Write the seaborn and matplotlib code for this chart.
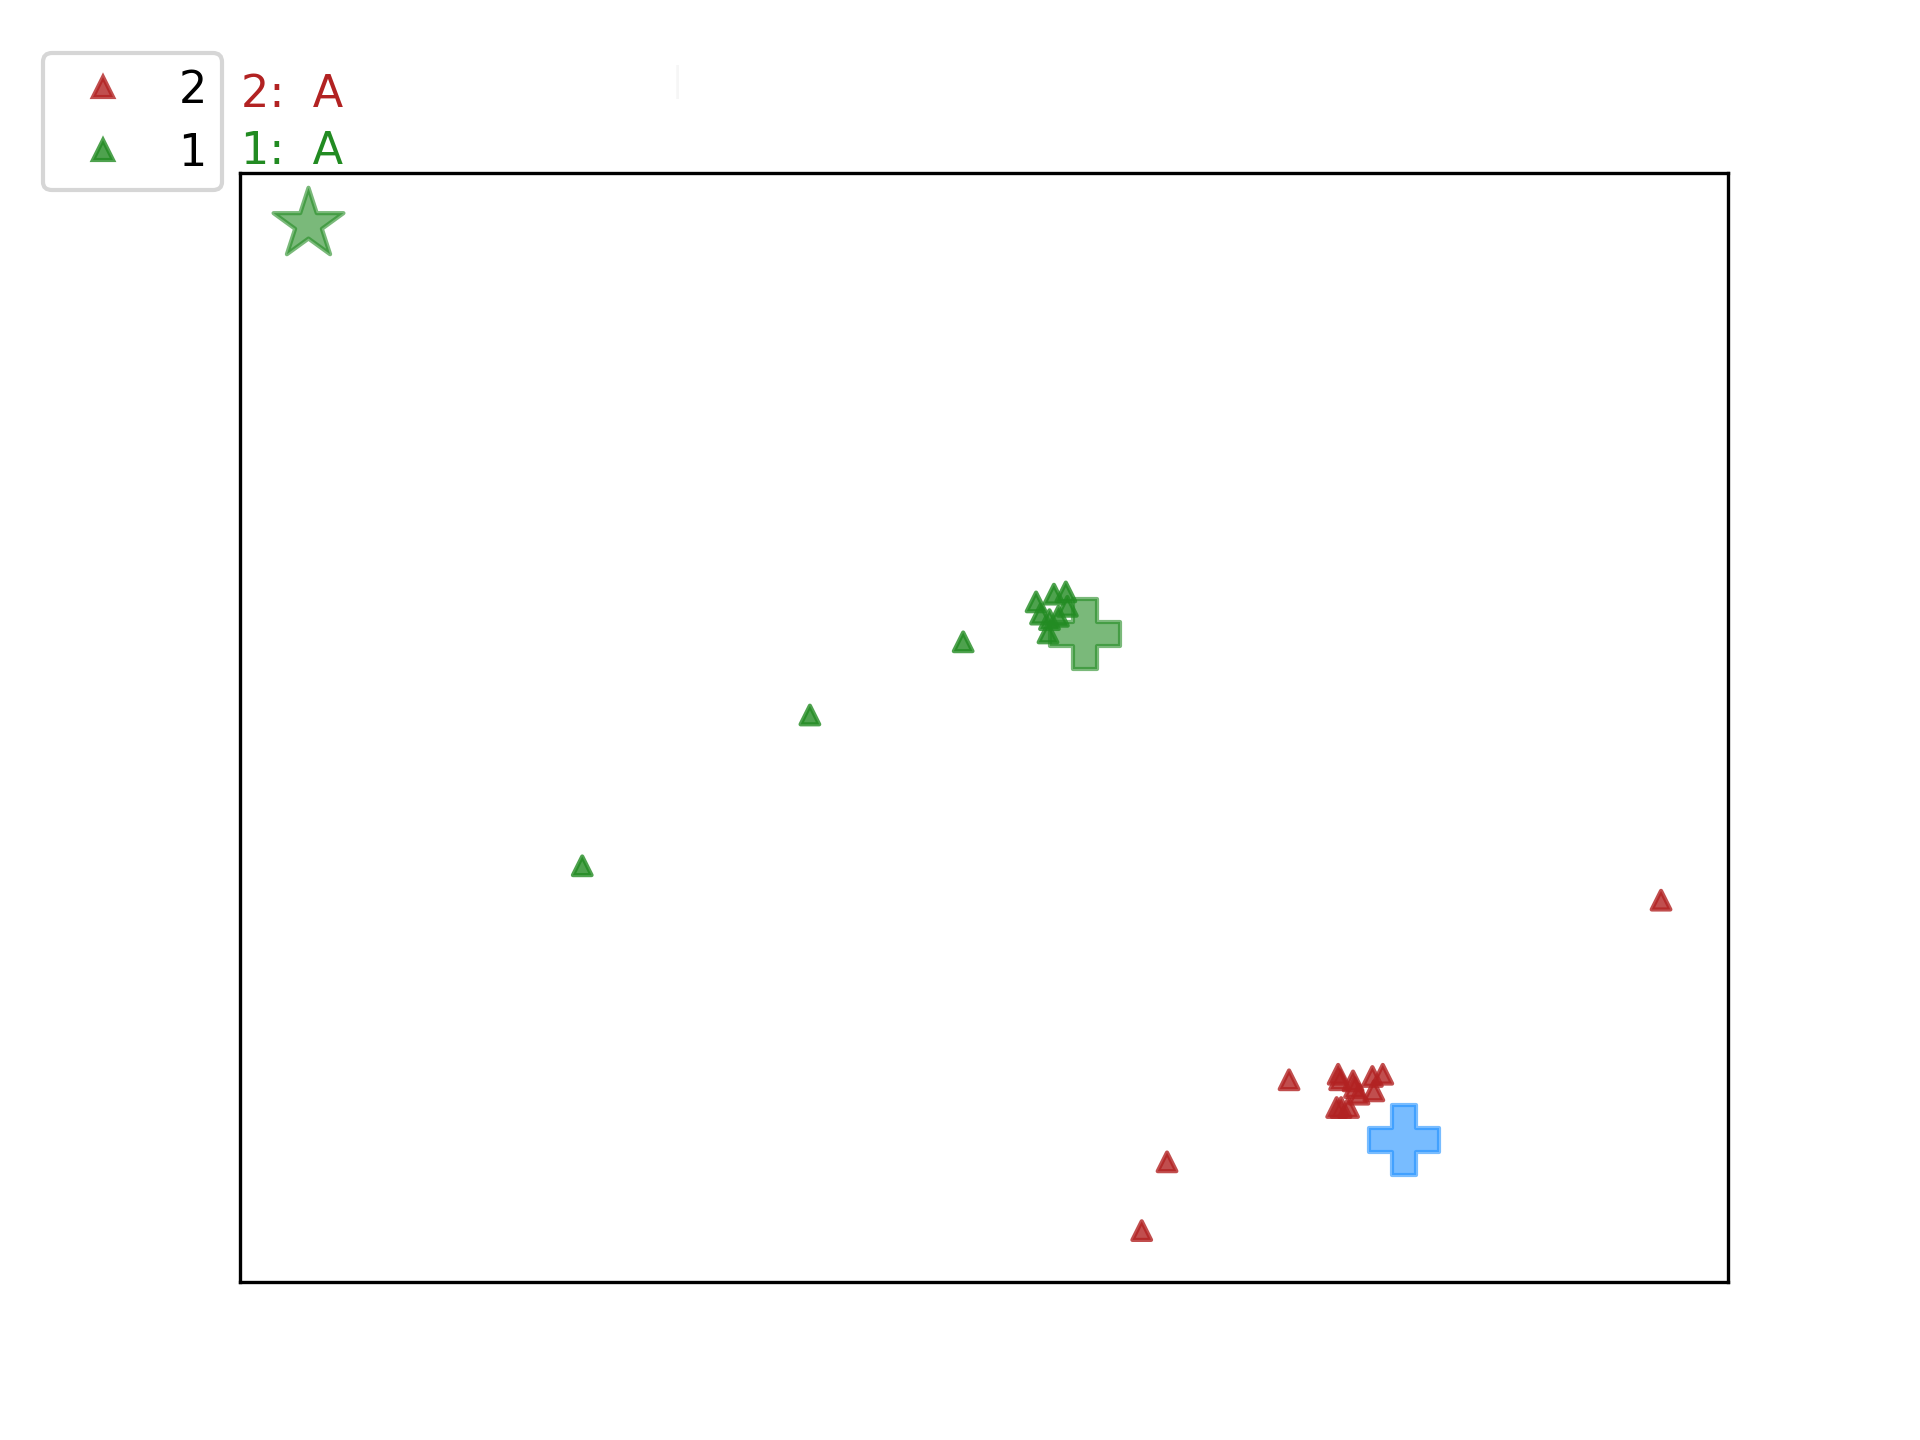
import matplotlib
matplotlib.use("Agg")
import matplotlib.pyplot as plt
import seaborn as sns
import pandas as pd

# triangle points, per group (positions as fraction of the plot box)
g1_x = [0.230, 0.383, 0.486, 0.535, 0.547, 0.555, 0.543, 0.538, 0.550, 0.556, 0.544]
g1_y = [0.375, 0.511, 0.577, 0.613, 0.620, 0.622, 0.585, 0.602, 0.600, 0.609, 0.597]
g2_x = [0.955, 0.705, 0.623, 0.606, 0.738, 0.739, 0.748, 0.749, 0.761, 0.768,
        0.752, 0.762, 0.737, 0.740, 0.745]
g2_y = [0.344, 0.182, 0.108, 0.046, 0.187, 0.182, 0.181, 0.175, 0.185, 0.187,
        0.169, 0.172, 0.157, 0.157, 0.157]

# the big markers
star_xy = (0.046, 0.954)
green_plus_xy = (0.568, 0.584)
blue_plus_xy = (0.782, 0.128)

labels = ["2", "1"]
colors = {"2": "#b22222", "1": "#228b22"}

df = pd.DataFrame({
    "x": g2_x + g1_x,
    "y": g2_y + g1_y,
    "group": ["2"] * len(g2_x) + ["1"] * len(g1_x),
})

sns.set_style("white")
fig = plt.figure(figsize=(9.6, 7.2), dpi=200)
ax = fig.add_subplot(111)

sns.scatterplot(data=df, x="x", y="y", hue="group", hue_order=labels,
                palette=colors, marker="^", s=45, alpha=0.8,
                edgecolor=df["group"].map(colors), linewidth=1.5,
                legend=False, ax=ax, zorder=3)

ax.scatter(*star_xy, marker="*", s=700, color="#228b22", alpha=0.6,
           edgecolor="#228b22", linewidth=1.5, zorder=2)
ax.scatter(*green_plus_xy, marker="P", s=650, color="#228b22", alpha=0.6,
           edgecolor="#228b22", linewidth=1.5, zorder=2)
ax.scatter(*blue_plus_xy, marker="P", s=650, color="#1e90ff", alpha=0.6,
           edgecolor="#1e90ff", linewidth=1.5, zorder=2)

ax.set_xlim(0, 1)
ax.set_ylim(0, 1)
ax.set_xticks([])
ax.set_yticks([])
ax.set_xlabel("")
ax.set_ylabel("")
for sp in ax.spines.values():
    sp.set_color("black")
    sp.set_linewidth(1.2)

handles = [plt.Line2D([], [], marker="^", linestyle="", markersize=7,
                      color=colors[l], alpha=0.8, markeredgewidth=1.5)
           for l in labels]
leg = fig.legend(handles, labels, loc="upper left", bbox_to_anchor=(0.0223, 0.963),
                 fontsize=16, handlelength=2.0, handletextpad=0.7,
                 labelspacing=0.45, borderaxespad=0, borderpad=0.35,
                 frameon=True, edgecolor="#d6d6d6", framealpha=1)
leg.get_frame().set_linewidth(1.5)
for t in leg.get_texts():
    t.set_color("black")

fig.text(0.1255, 0.926, "2:  A", color="#b22222", fontsize=16)
fig.text(0.1255, 0.886, "1:  A", color="#228b22", fontsize=16)
fig.text(0.350, 0.937, "|", color="#f6f6f6", fontsize=12)

fig.savefig("out.png", dpi=200)
